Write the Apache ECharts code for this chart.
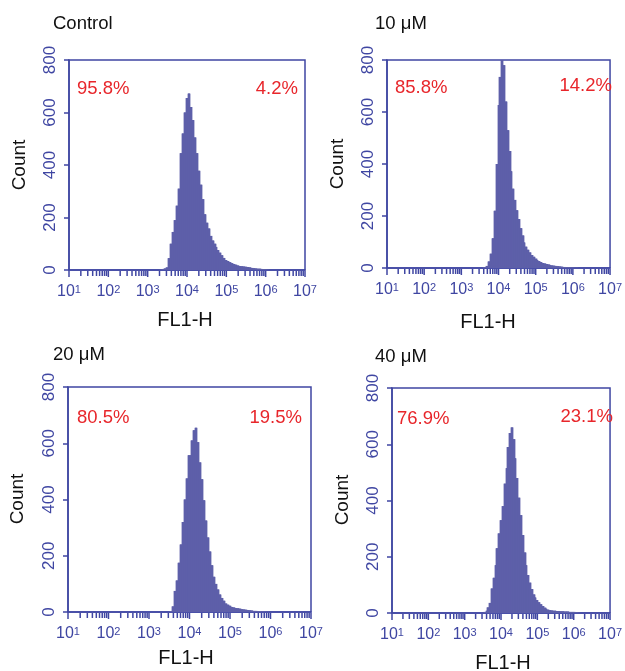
<!DOCTYPE html>
<html><head><meta charset="utf-8">
<script src="https://cdn.jsdelivr.net/npm/echarts@6/dist/echarts.min.js"></script>
<style>html,body{margin:0;padding:0;background:#fff}#c{width:625px;height:671px}</style>
</head><body><div id="c"></div>
<script>
// ---- data (log10 FL1-H bin centres and counts per bin) ----
const binLog = [3.30,3.35,3.40,3.45,3.50,3.55,3.60,3.65,3.70,3.75,3.80,3.85,3.90,3.95,
  4.00,4.05,4.10,4.15,4.20,4.25,4.30,4.35,4.40,4.45,4.50,4.55,4.60,4.65,4.70,4.75,4.80,4.85,4.90,4.95,
  5.00,5.05,5.10,5.15,5.20,5.25,5.30,5.35,5.40,5.45,5.50,5.55,5.60,5.65,5.70,5.75,5.80,5.85,5.90,5.95,
  6.00,6.05,6.10,6.15,6.20];
const countControl = [0,2,4,6,10,45,100,145,190,245,310,445,520,600,
  655,672,621,571,505,445,378,325,270,212,180,158,130,112,100,88,76,66,56,46,
  38,34,30,26,23,20,17,15,14,13,12,11,10,8,7,6,5,5,4,3,
  2,1,0,0,0];
const count10uM = [0,0,0,0,0,0,2,4,8,25,55,114,220,400,
  627,735,800,780,640,530,450,372,305,262,222,188,153,125,98,82,70,60,50,43,
  36,31,27,23,19,17,15,13,11,10,9,8,7,6,5,4,4,3,3,2,
  2,1,1,0,0];
const count20uM = [0,0,0,0,0,3,20,75,112,175,240,320,400,475,
  557,610,646,655,604,532,472,397,325,265,215,166,125,100,80,62,50,40,30,26,
  22,18,16,14,13,12,10,9,8,7,6,5,4,4,3,3,2,2,1,1,
  0,0,0,0,0];
const count40uM = [0,0,0,0,0,4,8,20,36,87,125,170,230,283,
  330,380,460,515,590,640,660,618,550,480,410,348,277,215,170,135,108,85,66,55,
  46,38,31,25,19,15,12,10,9,8,8,7,7,6,6,5,5,5,4,4,
  4,3,2,1,0];
const panelTitles = ['Control', '10 μM', '20 μM', '40 μM'];
const pctLeft = ['95.8%', '85.8%', '80.5%', '76.9%'];
const pctRight = ['4.2%', '14.2%', '19.5%', '23.1%'];
const xTickExp = [1, 2, 3, 4, 5, 6, 7];
const yTicks = [0, 200, 400, 600, 800];
const xName = 'FL1-H';
const yName = 'Count';

// ---- layout & style ----
const layout = [
  {left:69,  top:60,  width:236, height:210, title:[53,24],  count:[20,165],  fl:[185,320], pl:[77,89],  pr:[298,89]},
  {left:387, top:60,  width:230, height:208, title:[375,24], count:[338,164], fl:[488,322], pl:[395,88], pr:[612,86]},
  {left:68,  top:387, width:243, height:225, title:[53,355], count:[18,499],  fl:[186,658], pl:[77,418], pr:[302,418]},
  {left:392, top:388, width:225, height:225, title:[375,357],count:[343,500], fl:[503,663], pl:[397,419],pr:[613,417]}
];
const seriesCounts = [countControl, count10uM, count20uM, count40uM];
const AXIS = '#3f46a2', FILL = '#5d5fa9', RED = '#e8262b', FONT = '"Liberation Sans", Arial, sans-serif';

// log-spaced tick positions (1..9 x 10^n) in log10 units
const logTicks = [];
for (let n = xTickExp[0]; n < xTickExp[xTickExp.length - 1]; n++) {
  for (let k = 1; k <= 9; k++) logTicks.push(n + Math.log10(k));
}
logTicks.push(xTickExp[xTickExp.length - 1]);

function histRender(counts) {
  return function (params, api) {
    if (params.dataIndex !== 0) return null;
    const n = binLog.length;
    // shared bin edges snapped to whole pixels so neighbouring bins meet without seams
    const edges = [];
    for (let j = 0; j <= n; j++) {
      const e = j === 0 ? binLog[0] - (binLog[1] - binLog[0]) / 2
              : j === n ? binLog[n - 1] + (binLog[n - 1] - binLog[n - 2]) / 2
              : (binLog[j - 1] + binLog[j]) / 2;
      edges.push(Math.round(api.coord([e, 0])[0]));
    }
    const y0 = api.coord([binLog[0], 0])[1];
    const pts = [[edges[0], y0]];
    const rects = [];
    for (let j = 0; j < n; j++) {
      const y = api.coord([binLog[j], counts[j]])[1];
      pts.push([edges[j], y], [edges[j + 1], y]);
      if (counts[j] > 0 && edges[j + 1] > edges[j]) {
        rects.push({type:'rect', shape:{x:edges[j] - 0.4, y:y, width:edges[j + 1] - edges[j] + 0.8, height:y0 - y},
          style:{fill:FILL}});
      }
    }
    pts.push([edges[n], y0]);
    return {type:'group', children:[{type:'polygon', shape:{points:pts}, style:{fill:FILL}}].concat(rects)};
  };
}
function tickRender(params, api) {
  const p = api.coord([api.value(0), 0]);
  const major = Math.abs(api.value(0) - Math.round(api.value(0))) < 1e-9;
  return {type:'line', shape:{x1:p[0], y1:p[1] + 1, x2:p[0], y2:p[1] + (major ? 7 : 6)},
    style:{stroke:AXIS, lineWidth:1.5}};
}

const grid = [], xAxis = [], yAxis = [], series = [], graphic = [];
layout.forEach((p, i) => {
  grid.push({left:p.left, top:p.top, width:p.width, height:p.height, show:true,
    borderColor:AXIS, borderWidth:1.5, backgroundColor:'transparent'});
  xAxis.push({type:'value', gridIndex:i, position:'bottom', min:xTickExp[0], max:xTickExp[xTickExp.length-1], interval:1,
    axisLine:{show:true, lineStyle:{color:AXIS, width:1.5}},
    axisTick:{show:false},
    axisLabel:{show:true, margin:14,
      formatter:val => '{b|10}{s|' + val + '}',
      rich:{b:{fontSize:16, color:AXIS, fontFamily:FONT}, s:{fontSize:11, color:AXIS, fontFamily:FONT, verticalAlign:'top'}}},
    splitLine:{show:false}});
  yAxis.push({type:'value', gridIndex:i, min:yTicks[0], max:yTicks[yTicks.length-1], interval:200,
    axisLine:{show:true, lineStyle:{color:AXIS, width:1.5}},
    axisTick:{show:true, length:5, lineStyle:{color:AXIS, width:1.5}},
    axisLabel:{show:true, rotate:90, margin:10, fontSize:17, color:AXIS, fontFamily:FONT},
    splitLine:{show:false}});
  series.push({type:'custom', xAxisIndex:i, yAxisIndex:i,
    renderItem: histRender(seriesCounts[i]),
    data: binLog.map((b, j) => [b, seriesCounts[i][j]])});
  series.push({type:'custom', xAxisIndex:i, yAxisIndex:i, silent:true, clip:false, z:3,
    renderItem: tickRender, data: logTicks.map(t => [t])});
  graphic.push(
    {type:'text', x:p.title[0], y:p.title[1], style:{text:panelTitles[i], fontSize:18.5, fontFamily:FONT, fill:'#111', align:'left', verticalAlign:'middle'}},
    {type:'text', x:p.count[0], y:p.count[1], rotation:Math.PI/2, style:{text:yName, fontSize:19, fontFamily:FONT, fill:'#111', align:'center', verticalAlign:'middle'}},
    {type:'text', x:p.fl[0], y:p.fl[1], style:{text:xName, fontSize:20, fontFamily:FONT, fill:'#111', align:'center', verticalAlign:'middle'}},
    {type:'text', x:p.pl[0], y:p.pl[1], style:{text:pctLeft[i], fontSize:18.5, fontFamily:FONT, fill:RED, align:'left', verticalAlign:'middle'}},
    {type:'text', x:p.pr[0], y:p.pr[1], style:{text:pctRight[i], fontSize:18.5, fontFamily:FONT, fill:RED, align:'right', verticalAlign:'middle'}}
  );
});

const chart = echarts.init(document.getElementById('c'), null, {renderer:'canvas'});
chart.setOption({animation:false, backgroundColor:'#fff', grid, xAxis, yAxis, series, graphic});
</script></body></html>
